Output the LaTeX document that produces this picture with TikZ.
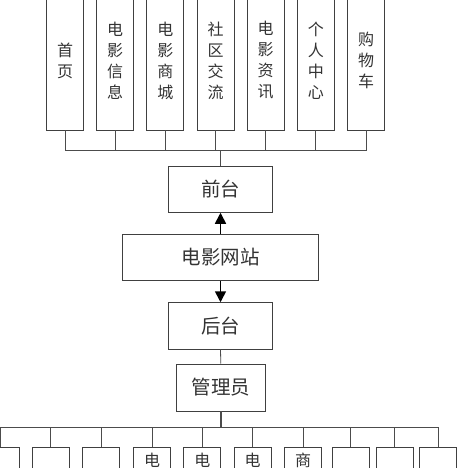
\documentclass[tikz,border=0pt]{standalone}
\usepackage{fontspec}
\newfontfamily\cjk{Noto Sans CJK SC}
\usetikzlibrary{arrows.meta}
\tikzset{
  colbox/.style={draw=black!75, line width=0.8pt, minimum width=37pt,
    minimum height=139pt, inner sep=0pt, align=center, text=black!80,
    font=\cjk\fontsize{16}{21}\selectfont},
  midbox/.style={draw=black!75, line width=0.8pt, minimum height=46.3pt,
    inner sep=0pt, text=black!80, font=\cjk\fontsize{19.5}{22}\selectfont},
  botbox/.style={draw=black!75, line width=0.8pt, minimum width=37pt,
    minimum height=60pt, inner sep=0pt, anchor=north},
  bottext/.style={anchor=north, inner sep=0pt, text=black!80,
    font=\cjk\fontsize{16}{21}\selectfont},
  link/.style={draw=black!70, line width=0.8pt},
  arr/.style={line width=1.6pt, -{Triangle[width=11pt,length=11pt]}},
}
\begin{document}
\begin{tikzpicture}[x=1pt,y=-1pt]
      \clip (0,0) rectangle (461,468);
      \fill[white] (0,0) rectangle (461,468);
      % front-end pages
      \draw
        (65.0,60.5) node[colbox] (t1){首\\页}
        (115.2,60.5) node[colbox] (t2){电\\影\\信\\息}
        (165.3,60.5) node[colbox] (t3){电\\影\\商\\城}
        (215.5,60.5) node[colbox] (t4){社\\区\\交\\流}
        (265.7,60.5) node[colbox] (t5){电\\影\\资\\讯}
        (315.8,60.5) node[colbox] (t6){个\\人\\中\\心}
        (366.0,60.5) node[colbox] (t7){购\\物\\车};
      % middle chain
      \node[midbox, minimum width=104.4pt] (qt) at (220.5,189.2) {前台};
      \node[midbox, minimum width=195.6pt] (site) at (220.5,257.5) {电影网站};
      \node[midbox, minimum width=104.4pt] (ht) at (220.5,325.8) {后台};
      \node[midbox, minimum width=88.3pt, minimum height=47pt] (admin) at (220.8,387.5) {管理员};
      % back-end pages
      \draw
        (0.7,446.7) node[botbox] (b1){}
        (50.8,446.7) node[botbox] (b2){}
        (101.3,446.7) node[botbox] (b3){}
        (152.0,446.7) node[botbox] (b4){}
        (202.3,446.7) node[botbox] (b5){}
        (252.7,446.7) node[botbox] (b6){}
        (303.0,446.7) node[botbox] (b7){}
        (350.8,446.7) node[botbox] (b8){}
        (394.7,446.7) node[botbox] (b9){}
        (438.3,446.7) node[botbox] (b10){};
      \node[bottext] (b4t) at ([yshift=-6pt]b4.north) {电};
      \node[bottext] (b5t) at ([yshift=-6pt]b5.north) {电};
      \node[bottext] (b6t) at ([yshift=-6pt]b6.north) {电};
      \node[bottext] (b7t) at ([yshift=-6pt]b7.north) {商};
      \coordinate (tbus) at (220.5,150);
      \coordinate (bbus) at (220.8,427.7);
      \begin{scope}[link]
        \draw (t1.south) |- (tbus);
        \draw (t2.south) |- (tbus);
        \draw (t3.south) |- (tbus);
        \draw (t4.south) |- (tbus);
        \draw (t5.south) |- (tbus);
        \draw (t6.south) |- (tbus);
        \draw (t7.south) |- (tbus);
        \draw[line width=1.2pt] (tbus) -- (qt.north);
        \draw (ht.south) -- (admin.north);
        \draw[line width=1.6pt] (admin.south) -- (bbus);
        \draw (bbus) -| (b1.north);
        \draw (bbus) -| (b2.north);
        \draw (bbus) -| (b3.north);
        \draw (bbus) -| (b4.north);
        \draw (bbus) -| (b5.north);
        \draw (bbus) -| (b6.north);
        \draw (bbus) -| (b7.north);
        \draw (bbus) -| (b8.north);
        \draw (bbus) -| (b9.north);
        \draw (bbus) -| (b10.north);
      \end{scope}
      \draw[arr] (site.north) -- (qt.south);
      \draw[arr] (site.south) -- (ht.north);
    \end{tikzpicture}
\end{document}
